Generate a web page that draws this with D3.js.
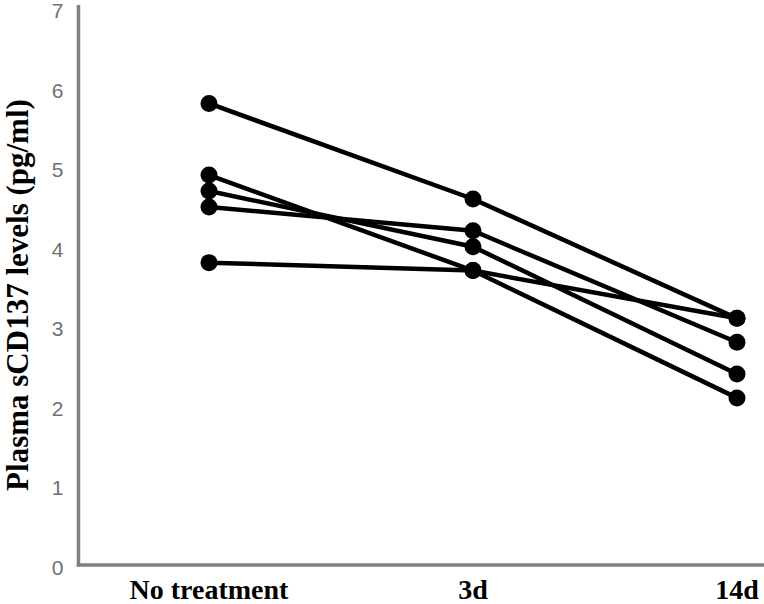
<!DOCTYPE html>
<html>
<head>
<meta charset="utf-8">
<script src="https://cdn.jsdelivr.net/npm/d3@7"></script>
<style>
  body { margin: 0; background: #fff; }
</style>
</head>
<body>
<div id="chart"></div>
<script>
// groups on the x axis
var groups = ["No treatment", "3d", "14d"];

// one line per patient
var patient1 = [5.8, 4.6, 3.1];
var patient2 = [4.9, 3.7, 2.1];
var patient3 = [4.7, 4.0, 2.4];
var patient4 = [4.5, 4.2, 2.8];
var patient5 = [3.8, 3.7, 3.1];

var yTicks = [0, 1, 2, 3, 4, 5, 6, 7];

var patients = [patient1, patient2, patient3, patient4, patient5];

var svgWidth = 764;
var svgHeight = 604;

var svg = d3.select("#chart")
  .append("svg")
  .attr("width", svgWidth)
  .attr("height", svgHeight);

// plot area
var plotLeft = 78.5, plotRight = 764, plotTop = 8, plotBottom = 565;

var xScale = d3.scalePoint()
  .domain(groups)
  .range([209, 737]);

var yScale = d3.scaleLinear()
  .domain([0, 7])
  .range([plotBottom, plotTop]);

// y axis, gray, no tick marks
var yAxis = svg.append("g")
  .attr("transform", `translate(${plotLeft}, 0)`)
  .call(d3.axisLeft(yScale)
    .tickValues(yTicks)
    .tickFormat(d3.format("d"))
    .tickSize(0)
    .tickPadding(15));

yAxis.select(".domain")
  .attr("d", `M0,${plotTop - 3}V${plotBottom + 1.5}`)
  .attr("stroke", "#808080")
  .attr("stroke-width", 3.5);

yAxis.selectAll("text")
  .attr("font-family", "Liberation Sans, sans-serif")
  .attr("font-size", "21px")
  .attr("dy", "0.45em")
  .attr("fill", "#707070");

// x axis line
svg.append("line")
  .attr("x1", plotLeft - 1.75)
  .attr("x2", plotRight)
  .attr("y1", plotBottom)
  .attr("y2", plotBottom)
  .attr("stroke", "#808080")
  .attr("stroke-width", 3.5);

// x labels
svg.selectAll(".xlabel")
  .data(groups)
  .enter()
  .append("text")
  .attr("class", "xlabel")
  .attr("x", d => xScale(d))
  .attr("y", 599)
  .attr("text-anchor", "middle")
  .attr("font-family", "Liberation Serif, serif")
  .attr("font-weight", "bold")
  .attr("font-size", "28px")
  .attr("fill", "#000")
  .text(d => d);

// y label
svg.append("text")
  .attr("transform", "translate(28, 295) rotate(-90)")
  .attr("text-anchor", "middle")
  .attr("font-family", "Liberation Serif, serif")
  .attr("font-weight", "bold")
  .attr("font-size", "31px")
  .attr("fill", "#000")
  .text("Plasma sCD137 levels (pg/ml)");

var line = d3.line()
  .x((d, i) => xScale(groups[i]))
  .y(d => yScale(d));

svg.selectAll(".patient")
  .data(patients)
  .enter()
  .append("path")
  .attr("class", "patient")
  .attr("d", d => line(d))
  .attr("fill", "none")
  .attr("stroke", "#000")
  .attr("stroke-width", 4.5);

patients.forEach(function(p) {
  svg.selectAll(null)
    .data(p)
    .enter()
    .append("circle")
    .attr("cx", (d, i) => xScale(groups[i]))
    .attr("cy", d => yScale(d))
    .attr("r", 8.5)
    .attr("fill", "#000");
});
</script>
</body>
</html>
